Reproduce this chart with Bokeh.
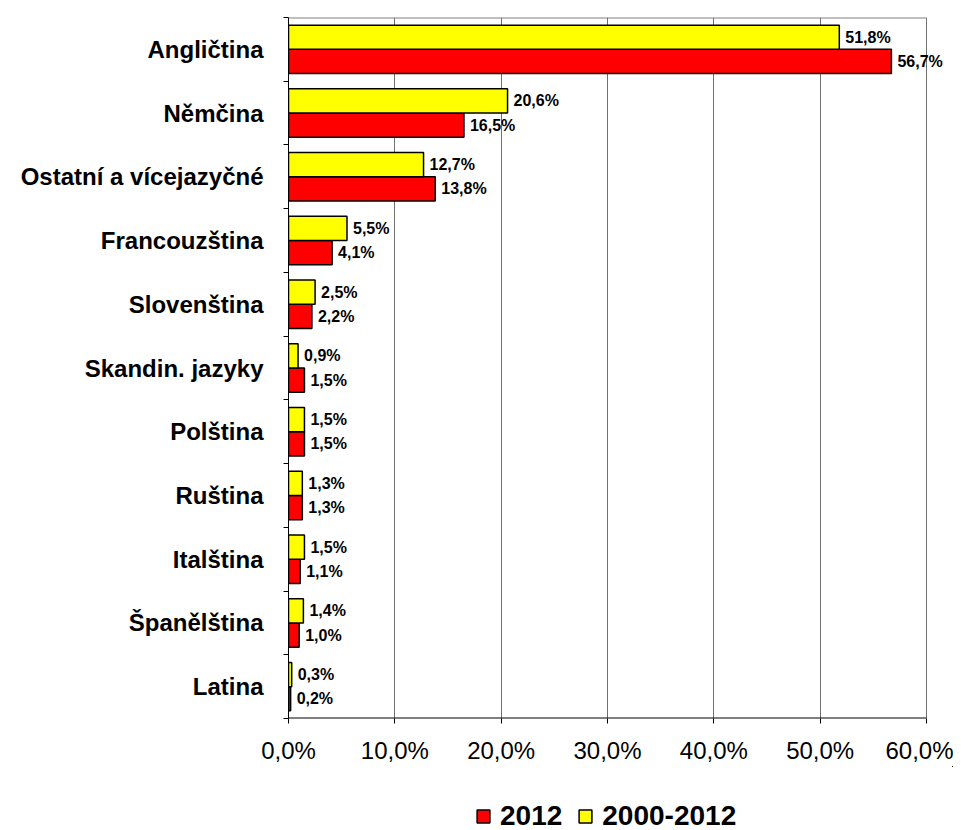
from bokeh.plotting import figure
from bokeh.models import ColumnDataSource, FixedTicker, Legend, LegendItem
from bokeh.layouts import column
from bokeh.core.properties import value
from bokeh.embed import file_html
from bokeh.resources import INLINE

categories = ["Angličtina", "Němčina", "Ostatní a vícejazyčné", "Francouzština",
              "Slovenština", "Skandin. jazyky", "Polština", "Ruština",
              "Italština", "Španělština", "Latina"]
v2012 = [56.7, 16.5, 13.8, 4.1, 2.2, 1.5, 1.5, 1.3, 1.1, 1.0, 0.2]
v2000_2012 = [51.8, 20.6, 12.7, 5.5, 2.5, 0.9, 1.5, 1.3, 1.5, 1.4, 0.3]
x_ticks = [0, 10, 20, 30, 40, 50, 60]
series_names = ["2012", "2000-2012"]
colors = ["#FF0000", "#FFFF00"]

n = len(categories)
centers = [n - 0.5 - i for i in range(n)]
FONT = "Liberation Sans"
XMAX = x_ticks[-1]

def fmt(v):
    return f"{v:.1f}".replace(".", ",") + "%"

src_red = ColumnDataSource(dict(y=[c - 0.19 for c in centers], v=v2012,
                                lab=[fmt(v) for v in v2012]))
src_yel = ColumnDataSource(dict(y=[c + 0.19 for c in centers], v=v2000_2012,
                                lab=[fmt(v) for v in v2000_2012]))

W = 953
p = figure(width=W, height=766, output_backend="svg", toolbar_location=None,
           x_range=(0, XMAX * 665 / 638), y_range=(0, n))
p.min_border_left = 288
p.min_border_right = 0
p.min_border_top = 17
p.min_border_bottom = 10
p.outline_line_color = None
p.background_fill_color = "white"
p.border_fill_color = "white"

p.hbar(y="y", right="v", left=0, height=0.38, source=src_red,
       fill_color=colors[0], line_color="black", line_width=1.5)
p.hbar(y="y", right="v", left=0, height=0.38, source=src_yel,
       fill_color=colors[1], line_color="black", line_width=1.5)

for s in (src_red, src_yel):
    p.text(x="v", y="y", text="lab", source=s, x_offset=6,
           text_baseline="middle", text_align="left",
           text_font=value(FONT), text_font_style="bold",
           text_font_size="16px", text_color="black")

# frame top edge and bottom axis line (only up to 60 %)
p.segment(x0=[0], y0=[n], x1=[XMAX], y1=[n], line_color="#808080", line_width=2)
p.segment(x0=[0], y0=[0], x1=[XMAX], y1=[0], line_color="black", line_width=2)

# x axis
p.xaxis.ticker = FixedTicker(ticks=x_ticks)
p.xaxis.major_label_overrides = {t: fmt(t) for t in x_ticks}
p.xaxis.major_label_text_font = FONT
p.xaxis.major_label_text_font_size = "24px"
p.xaxis.major_label_text_color = "black"
p.xaxis.major_label_standoff = 13
p.xaxis.major_tick_out = 5
p.xaxis.major_tick_in = 0
p.xaxis.minor_tick_line_color = None
p.xaxis.axis_line_color = None
p.xaxis.major_tick_line_color = "black"

# y axis
p.yaxis.ticker = FixedTicker(ticks=centers, minor_ticks=list(range(n + 1)))
p.yaxis.major_label_overrides = {c: categories[i] for i, c in enumerate(centers)}
p.yaxis.major_label_text_font = FONT
p.yaxis.major_label_text_font_style = "bold"
p.yaxis.major_label_text_font_size = "24px"
p.yaxis.major_label_text_color = "black"
p.yaxis.major_label_standoff = 20
p.yaxis.major_tick_line_color = None
p.yaxis.major_tick_out = 0
p.yaxis.major_tick_in = 0
p.yaxis.minor_tick_out = 5
p.yaxis.minor_tick_in = 0
p.yaxis.minor_tick_line_color = "black"
p.yaxis.axis_line_color = "black"

p.xgrid.grid_line_color = "#707070"
p.xgrid.ticker = FixedTicker(ticks=x_ticks)
p.ygrid.grid_line_color = None

# legend strip below (same series drawn off-screen, only the legend shows)
q = figure(width=W, height=64, output_backend="svg", toolbar_location=None,
           x_range=(-1001, -1000), y_range=(-1001, -1000),
           x_axis_type=None, y_axis_type=None)
q.min_border = 0
q.outline_line_color = None
q.xgrid.grid_line_color = None
q.ygrid.grid_line_color = None
lr_red = q.hbar(y="y", right="v", left=0, height=0.38, source=src_red,
                fill_color=colors[0], line_color="black", line_width=1.5)
lr_yel = q.hbar(y="y", right="v", left=0, height=0.38, source=src_yel,
                fill_color=colors[1], line_color="black", line_width=1.5)
legend = Legend(items=[LegendItem(label=series_names[0], renderers=[lr_red]),
                       LegendItem(label=series_names[1], renderers=[lr_yel])],
                orientation="horizontal", location=(187, -2),
                label_text_font=FONT, label_text_font_style="bold",
                label_text_font_size="28px", label_text_color="black",
                glyph_width=16, glyph_height=16, label_standoff=9,
                spacing=15, border_line_color=None, background_fill_alpha=0,
                margin=0, padding=0)
q.add_layout(legend, "center")

layout = column(p, q, spacing=0)
open("out.html", "w").write(file_html(layout, INLINE))
